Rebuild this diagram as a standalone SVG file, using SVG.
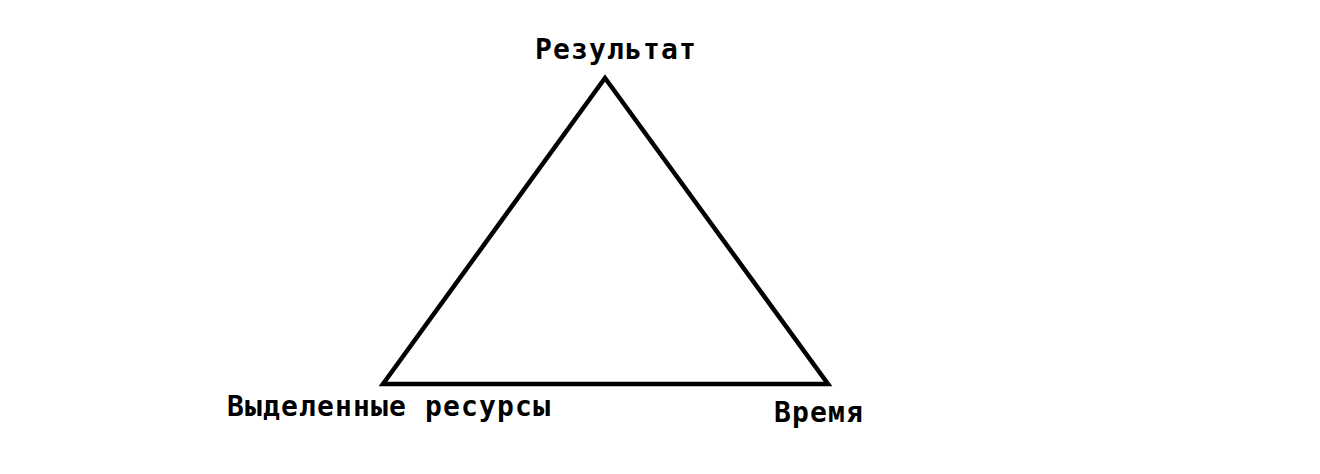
<svg xmlns="http://www.w3.org/2000/svg" width="1320" height="474" viewBox="0 0 1320 474">
<style>
.lbl{font-family:"DejaVu Sans Mono","Liberation Mono",monospace;font-weight:bold;font-size:28px;letter-spacing:1.15px;fill:#000}
.edge{fill:none;stroke:#000;stroke-width:4.5;stroke-linejoin:miter}
</style>
<rect width="1320" height="474" fill="#fff"/>
<g id="connectors">
<polygon class="edge" points="605,78 383,384 828,384"/>
</g>
<g id="node-result"><text class="lbl" x="535" y="59">Результат</text></g>
<g id="node-resources"><text class="lbl" x="227" y="416">Выделенные ресурсы</text></g>
<g id="node-time"><text class="lbl" x="774" y="422">Время</text></g>
</svg>
